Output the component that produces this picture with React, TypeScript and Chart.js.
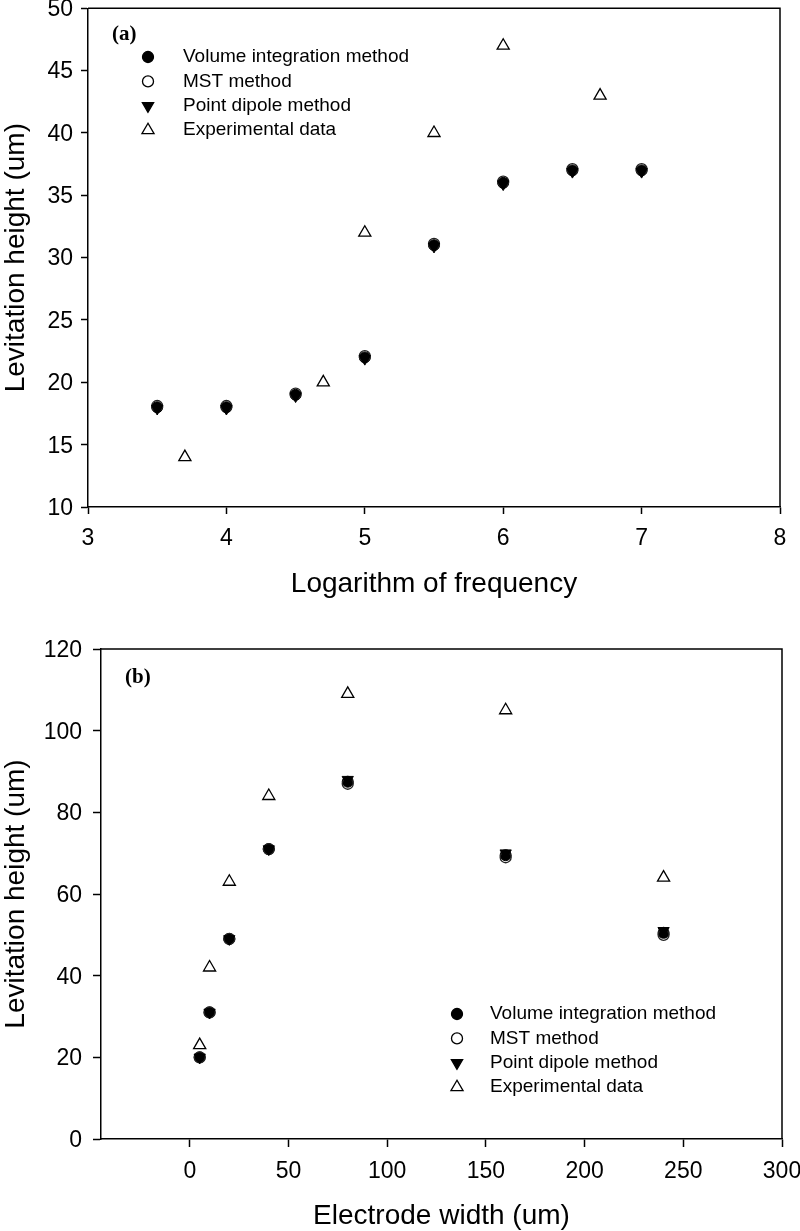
import React, { useEffect, useRef } from 'react';
import { Chart, registerables } from 'chart.js';

Chart.register(...registerables);

// ---------- Data: panel (a) ----------
const freqCalcX = [3.5, 4, 4.5, 5, 5.5, 6, 6.5, 7];
const freqVolume = [18, 18, 19, 22, 31, 36, 37, 37];
const freqMST = [18.1, 18.1, 19.1, 22.1, 31.1, 36.1, 37.1, 37.1];
const freqDipole = [17.9, 17.9, 18.9, 21.9, 30.9, 35.9, 36.9, 36.9];
const freqExpX = [3.7, 4.7, 5, 5.5, 6, 6.7];
const freqExp = [14, 20, 32, 40, 47, 43];
const freqXTicks = [3, 4, 5, 6, 7, 8];
const freqYTicks = [10, 15, 20, 25, 30, 35, 40, 45, 50];

// ---------- Data: panel (b) ----------
const widthX = [5, 10, 20, 40, 80, 160, 240];
const widthVolume = [20, 31, 49, 71, 87.5, 69.5, 50.5];
const widthMST = [20, 31, 49, 71, 87, 69, 50];
const widthDipole = [20, 31, 49, 71, 88, 70, 51];
const widthExp = [23, 42, 63, 84, 109, 105, 64];
const widthXTicks = [0, 50, 100, 150, 200, 250, 300];
const widthYTicks = [0, 20, 40, 60, 80, 100, 120];

const seriesNames = ['Volume integration method', 'MST method', 'Point dipole method', 'Experimental data'];

const FONT = '"Liberation Sans", Arial, Helvetica, sans-serif';

function pts(xs: number[], ys: number[]) {
  return xs.map((x, i) => ({ x, y: ys[i] }));
}

function drawMarker(ctx: CanvasRenderingContext2D, kind: number, x: number, y: number) {
  ctx.save();
  ctx.strokeStyle = '#000';
  ctx.fillStyle = '#000';
  ctx.lineWidth = 1.3;
  ctx.beginPath();
  if (kind === 0 || kind === 1) {
    ctx.arc(x, y, 5.5, 0, Math.PI * 2);
    if (kind === 0) ctx.fill();
    ctx.stroke();
  } else {
    const r = kind === 2 ? 6.5 : 7;
    const dir = kind === 2 ? 1 : -1;
    const h = r * 0.5;
    const w = r * Math.sqrt(3) / 2;
    ctx.moveTo(x, y + dir * r);
    ctx.lineTo(x - w, y - dir * h);
    ctx.lineTo(x + w, y - dir * h);
    ctx.closePath();
    if (kind === 2) ctx.fill();
    ctx.stroke();
  }
  ctx.restore();
}

interface PanelProps {
  height: number;
  calcX: number[];
  volume: number[];
  mst: number[];
  dipole: number[];
  expX: number[];
  exp: number[];
  xMin: number;
  xMax: number;
  yMin: number;
  yMax: number;
  xTicks: number[];
  yTicks: number[];
  xTitle: string;
  yTitle: string;
  padTop: number;
  padRight: number;
  yAxisWidth: number;
  xAxisHeight: number;
  tickLen: number;
  yTickPad: number;
  xTickPad: number;
  xTitlePad: number;
  panelLabel: string;
  panelLabelX: number;
  panelLabelY: number;
  legendMarkerX: number;
  legendTextX: number;
  legendY0: number;
  legendDY: number;
}

function Panel(p: PanelProps) {
  const ref = useRef<HTMLCanvasElement | null>(null);

  useEffect(() => {
    if (!ref.current) return;
    const overlay = {
      id: 'overlay' + p.panelLabel,
      afterDraw(chart: any) {
        const ctx: CanvasRenderingContext2D = chart.ctx;
        const a = chart.chartArea;
        ctx.save();
        // frame top & right
        ctx.strokeStyle = '#000';
        ctx.lineWidth = 1.5;
        ctx.beginPath();
        ctx.moveTo(a.left, a.top);
        ctx.lineTo(a.right, a.top);
        ctx.lineTo(a.right, a.bottom);
        ctx.stroke();
        // panel label
        ctx.fillStyle = '#000';
        ctx.font = 'bold 21px "Liberation Serif", "Times New Roman", serif';
        ctx.textBaseline = 'middle';
        ctx.textAlign = 'left';
        ctx.fillText(p.panelLabel, p.panelLabelX, p.panelLabelY);
        // legend
        ctx.font = '19px ' + FONT;
        seriesNames.forEach((name, i) => {
          const y = p.legendY0 + i * p.legendDY;
          drawMarker(ctx, i, p.legendMarkerX, y);
          ctx.fillStyle = '#000';
          ctx.fillText(name, p.legendTextX, y);
        });
        ctx.restore();
      },
    };

    const axisCommon = (title: string, tickVals: number[], min: number, max: number, tickPad: number) => ({
      type: 'linear' as const,
      min,
      max,
      afterBuildTicks: (s: any) => {
        s.ticks = tickVals.map((v) => ({ value: v }));
      },
      ticks: {
        color: '#000',
        font: { family: FONT, size: 23 },
        padding: tickPad,
        autoSkip: false,
        maxRotation: 0,
        minRotation: 0,
      },
      grid: {
        display: true,
        drawOnChartArea: false,
        drawTicks: true,
        tickLength: p.tickLen,
        tickColor: '#000',
        tickWidth: 1.5,
      },
      border: { display: true, color: '#000', width: 1.5 },
      title: {
        display: true,
        text: title,
        color: '#000',
        font: { family: FONT, size: 28, lineHeight: 1 },
      },
    });

    const xAxis: any = axisCommon(p.xTitle, p.xTicks, p.xMin, p.xMax, p.xTickPad);
    xAxis.position = 'bottom';
    xAxis.title.padding = { top: 0, bottom: p.xTitlePad };
    xAxis.afterFit = (s: any) => {
      s.height = p.xAxisHeight;
      s.paddingLeft = 0;
      s.paddingRight = 0;
    };
    const yAxis: any = axisCommon(p.yTitle, p.yTicks, p.yMin, p.yMax, p.yTickPad);
    yAxis.position = 'left';
    yAxis.ticks.labelOffset = 1.5;
    yAxis.title.padding = { top: 2, bottom: 0 };
    yAxis.afterFit = (s: any) => {
      s.width = p.yAxisWidth;
      s.paddingTop = 0;
      s.paddingBottom = 0;
    };

    const chart = new Chart(ref.current, {
      type: 'scatter',
      data: {
        datasets: [
          {
            label: seriesNames[2],
            data: pts(p.calcX, p.dipole),
            pointStyle: 'triangle',
            rotation: 180,
            pointRadius: 6.5,
            backgroundColor: '#000',
            borderColor: '#000',
            borderWidth: 1,
            order: 0,
          },
          {
            label: seriesNames[1],
            data: pts(p.calcX, p.mst),
            pointStyle: 'circle',
            pointRadius: 5.5,
            backgroundColor: 'rgba(0,0,0,0)',
            borderColor: '#222',
            borderWidth: 1.3,
            order: 1,
          },
          {
            label: seriesNames[0],
            data: pts(p.calcX, p.volume),
            pointStyle: 'circle',
            pointRadius: 5.5,
            backgroundColor: '#000',
            borderColor: '#000',
            borderWidth: 1,
            order: 2,
          },
          {
            label: seriesNames[3],
            data: pts(p.expX, p.exp),
            pointStyle: 'triangle',
            pointRadius: 7,
            backgroundColor: 'rgba(255,255,255,0)',
            borderColor: '#000',
            borderWidth: 1.3,
            order: 3,
          },
        ],
      },
      options: {
        animation: false,
        responsive: true,
        maintainAspectRatio: false,
        events: [],
        layout: { padding: { top: p.padTop, right: p.padRight, left: 0, bottom: 0 } },
        plugins: {
          legend: { display: false },
          tooltip: { enabled: false },
        },
        scales: { x: xAxis, y: yAxis },
      },
      plugins: [overlay],
    });
    return () => chart.destroy();
  }, []);

  return (
    <div style={{ position: 'relative', width: 800, height: p.height }}>
      <canvas ref={ref} />
    </div>
  );
}

export default function App() {
  return (
    <div style={{ position: 'absolute', left: 0, top: 0, width: 800, height: 1231, background: '#fff' }}>
      <Panel
        height={615}
        calcX={freqCalcX}
        volume={freqVolume}
        mst={freqMST}
        dipole={freqDipole}
        expX={freqExpX}
        exp={freqExp}
        xMin={3}
        xMax={8}
        yMin={10}
        yMax={50}
        xTicks={freqXTicks}
        yTicks={freqYTicks}
        xTitle="Logarithm of frequency"
        yTitle="Levitation height (um)"
        padTop={8}
        padRight={20}
        yAxisWidth={88}
        xAxisHeight={108}
        tickLen={7}
        yTickPad={8}
        xTickPad={11}
        xTitlePad={17}
        panelLabel="(a)"
        panelLabelX={112}
        panelLabelY={35}
        legendMarkerX={148}
        legendTextX={183}
        legendY0={57}
        legendDY={24.4}
      />
      <Panel
        height={616}
        calcX={widthX}
        volume={widthVolume}
        mst={widthMST}
        dipole={widthDipole}
        expX={widthX}
        exp={widthExp}
        xMin={-45}
        xMax={300}
        yMin={0}
        yMax={120}
        xTicks={widthXTicks}
        yTicks={widthYTicks}
        xTitle="Electrode width (um)"
        yTitle="Levitation height (um)"
        padTop={34}
        padRight={18}
        yAxisWidth={101}
        xAxisHeight={92}
        tickLen={8}
        yTickPad={11}
        xTickPad={11}
        xTitlePad={1}
        panelLabel="(b)"
        panelLabelX={125}
        panelLabelY={63}
        legendMarkerX={457}
        legendTextX={490}
        legendY0={399}
        legendDY={24.4}
      />
    </div>
  );
}
